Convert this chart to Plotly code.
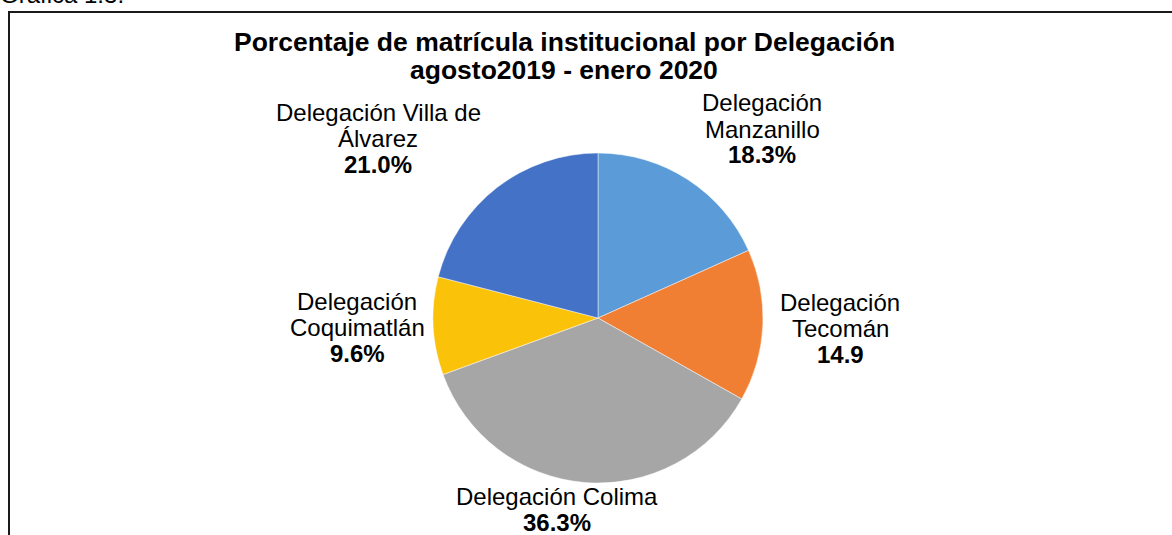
import plotly.graph_objects as go

# ---- data ----
delegaciones = ["Delegación Manzanillo", "Delegación Tecomán", "Delegación Colima",
                "Delegación Coquimatlán", "Delegación Villa de Álvarez"]
porcentajes = [18.3, 14.9, 36.3, 9.6, 21.0]
etiquetas_valor = ["18.3%", "14.9", "36.3%", "9.6%", "21.0%"]
etiquetas_nombre = [["Delegación", "Manzanillo"], ["Delegación", "Tecomán"],
                    ["Delegación Colima"], ["Delegación", "Coquimatlán"],
                    ["Delegación Villa de", "Álvarez"]]
colores = ["#5B9BD8", "#F07F33", "#A6A6A6", "#FBC20A", "#4472C6"]
titulo = ["Porcentaje de matrícula institucional por Delegación", "agosto2019 - enero 2020"]

W, H = 1172, 535
FONT = "Liberation Sans, Arial, sans-serif"

# ---- layout helpers (pixel -> paper) ----
def px(x):
    return x / W

def py(y):
    return 1 - y / H

cx, cy, r = 598, 318, 165

fig = go.Figure()
fig.add_trace(go.Pie(
    labels=delegaciones, values=porcentajes, sort=False, direction="clockwise",
    rotation=0, textinfo="none", hoverinfo="label+percent",
    marker=dict(colors=colores, line=dict(color="rgba(255,255,255,0.6)", width=0.8)),
    domain=dict(x=[px(cx - r), px(cx + r)], y=[py(cy + r), py(cy - r)]),
    showlegend=False,
))

annotations = []
# label placement (pixel centers) per slice: x center, first line y
label_pos = [(762, 103), (840, 302), (557, 496), (357, 301), (378, 112)]
step = 26
for (x, y0), names, val in zip(label_pos, etiquetas_nombre, etiquetas_valor):
    lines = [(n, False) for n in names] + [(val, True)]
    for i, (t, bold) in enumerate(lines):
        annotations.append(dict(
            x=px(x), y=py(y0 + i * step), xref="paper", yref="paper",
            text=f"<b>{t}</b>" if bold else t, showarrow=False,
            xanchor="center", yanchor="middle",
            font=dict(family=FONT, size=24, color="#000000")))

for i, t in enumerate(titulo):
    annotations.append(dict(
        x=px(564), y=py(42 + i * 28), xref="paper", yref="paper",
        text=f"<b>{t}</b>", showarrow=False, xanchor="center", yanchor="middle",
        font=dict(family=FONT, size=26.5, color="#000000")))

annotations.append(dict(
    x=px(-2), y=py(10), xref="paper", yref="paper", text="Gráfica 1.3.",
    showarrow=False, xanchor="left", yanchor="bottom",
    font=dict(family=FONT, size=24, color="#000000")))

fig.update_layout(
    width=W, height=H, margin=dict(l=0, r=0, t=0, b=0),
    paper_bgcolor="white", plot_bgcolor="white",
    annotations=annotations,
    shapes=[dict(type="rect", xref="paper", yref="paper",
                 x0=px(9), x1=px(W + 20), y0=py(H + 20), y1=py(12),
                 line=dict(color="#1a1a1a", width=2))],
)

fig.write_html("out.html", config={"displayModeBar": False},
               post_script="document.body.style.margin='0';document.body.style.overflow='hidden';")
